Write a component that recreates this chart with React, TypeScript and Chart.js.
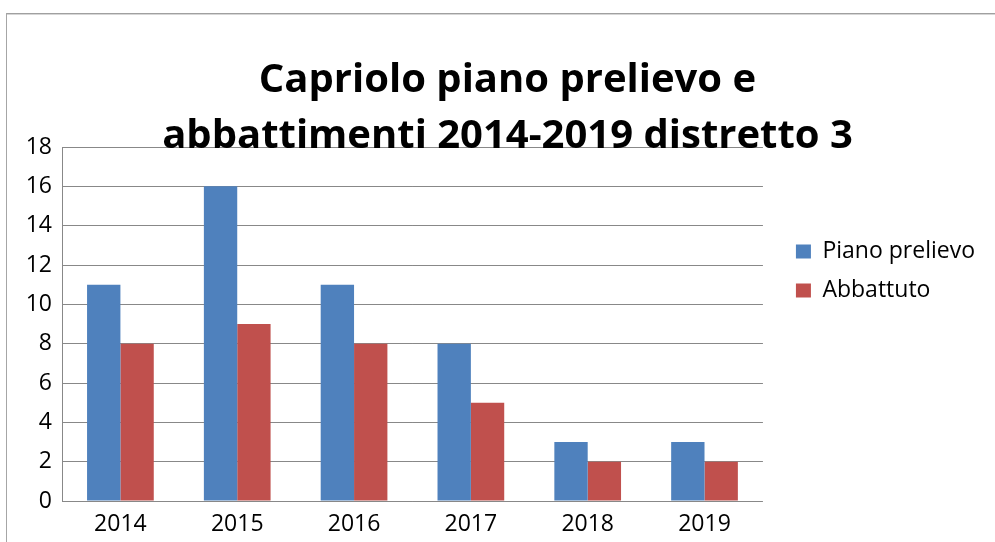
import React, { useEffect, useRef } from "react";
import { Chart, registerables } from "chart.js";

Chart.register(...registerables);

const categories = ["2014", "2015", "2016", "2017", "2018", "2019"];
const pianoPrelievo = [11, 16, 11, 8, 3, 3];
const abbattuto = [8, 9, 8, 5, 2, 2];
const seriesNames = ["Piano prelievo", "Abbattuto"];
const titleLines = ["Capriolo piano prelievo e", "abbattimenti 2014-2019 distretto 3"];

const FONT = "'Open Sans', 'Noto Sans', 'DejaVu Sans', sans-serif";
const TITLE_SHIFT = 3;

const framePlugin = {
  id: "frame",
  beforeDraw(chart: any) {
    const ctx = chart.ctx;
    ctx.save();
    ctx.fillStyle = "#ffffff";
    ctx.fillRect(0, 0, chart.width, chart.height);
    ctx.fillStyle = "#a0a0a0";
    ctx.fillRect(6, 13, chart.width - 6, 1);
    ctx.fillStyle = "#d6d6d6";
    ctx.fillRect(6, 14, chart.width - 6, 1);
    ctx.fillStyle = "#a6a6a6";
    ctx.fillRect(6, 13, 1, chart.height - 13);
    ctx.restore();
  },
  afterLayout(chart: any) {
    const t = chart.titleBlock;
    if (t) {
      t.left += TITLE_SHIFT;
      t.right += TITLE_SHIFT;
    }
  },
};

export default function App() {
  const ref = useRef<HTMLCanvasElement>(null);
  useEffect(() => {
    document.body.style.margin = "0";
    const canvas = ref.current!;
    const chart = new Chart(canvas, {
      type: "bar",
      data: {
        labels: categories,
        datasets: [
          {
            label: seriesNames[0],
            data: pianoPrelievo,
            backgroundColor: "#4f81bd",
            categoryPercentage: 0.571,
            barPercentage: 1,
          },
          {
            label: seriesNames[1],
            data: abbattuto,
            backgroundColor: "#c0504d",
            categoryPercentage: 0.571,
            barPercentage: 1,
          },
        ],
      },
      plugins: [framePlugin],
      options: {
        animation: false,
        responsive: false,
        devicePixelRatio: 1,
        layout: { padding: { left: 24, right: 10, top: 0, bottom: 0 } },
        plugins: {
          tooltip: { enabled: false },
          title: {
            display: true,
            text: titleLines,
            color: "#000000",
            font: { family: FONT, size: 40, weight: "bold", lineHeight: 56 / 40 },
            padding: { top: 53, bottom: -18 },
          },
          legend: {
            position: "right",
            align: "center",
            maxWidth: 300,
            labels: {
              color: "#000000",
              font: { family: FONT, size: 23 },
              boxWidth: 15,
              boxHeight: 14,
              padding: 16,
            },
          },
        },
        scales: {
          x: {
            grid: { display: false, drawTicks: false },
            border: { display: false },
            ticks: { color: "#000000", font: { family: FONT, size: 23 }, padding: 10 },
            afterFit(s: any) {
              s.height = 41;
            },
          },
          y: {
            min: 0,
            max: 18,
            ticks: { stepSize: 2, color: "#000000", font: { family: FONT, size: 23 }, padding: 10 },
            grid: { color: "#888888", lineWidth: 1, drawTicks: false },
            border: { display: true, color: "#888888", width: 1 },
            afterFit(s: any) {
              s.width = 38;
            },
          },
          y2: {
            type: "linear",
            position: "right",
            display: true,
            grid: { display: false, drawTicks: false },
            border: { display: false },
            ticks: { display: false },
            afterFit(s: any) {
              s.width = 17;
            },
          },
        },
      } as any,
    });
    return () => chart.destroy();
  }, []);
  return <canvas ref={ref} width={995} height={542} style={{ display: "block" }} />;
}
